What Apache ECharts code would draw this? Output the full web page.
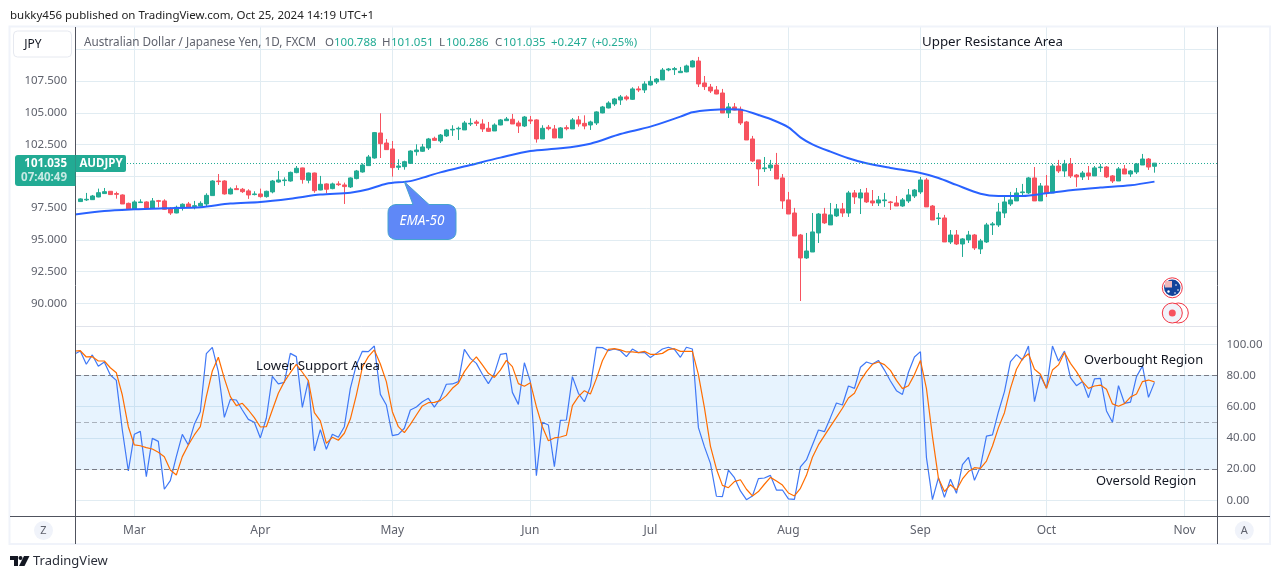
<!DOCTYPE html>
<html>
<head>
<meta charset="utf-8">
<title>AUDJPY</title>
<script src="https://cdn.jsdelivr.net/npm/echarts@6/dist/echarts.min.js"></script>
<style>
html, body { margin: 0; padding: 0; background: #fff; }
#main { width: 1281px; height: 579px; }
</style>
</head>
<body>
<div id="main"></div>
<script>
// daily candles, index 0 = Feb 19 2024, weekdays only
var opens = [
  98.01,98.14,98.16,98.37,98.64,98.82,98.64,98.53,97.87,97.43,
  97.93,97.98,97.48,98.08,98.06,97.43,97.11,97.51,97.82,97.61,
  97.66,97.82,98.48,99.63,99.63,98.61,99.03,98.98,98.85,98.56,
  98.61,98.40,98.77,99.55,99.66,99.63,100.29,100.66,99.69,100.26,
  98.92,99.40,99.03,99.40,99.32,99.16,99.82,100.34,100.84,101.44,
  103.41,102.62,102.15,100.71,100.76,101.02,101.94,101.97,102.23,102.99,
  102.78,103.18,103.65,103.73,103.65,104.12,104.28,104.12,103.78,103.57,
  104.04,104.38,104.49,104.20,103.96,104.44,104.44,102.94,103.86,103.73,
  103.02,103.83,103.73,104.44,104.17,104.04,104.20,104.99,105.38,105.70,
  106.01,106.25,106.06,106.88,106.80,107.19,107.43,107.59,108.37,108.40,
  108.16,108.22,108.61,109.08,107.35,107.03,106.80,106.56,104.99,105.46,
  105.28,104.28,102.94,101.29,100.60,100.66,100.89,99.87,98.14,97.11,
  95.38,93.57,94.04,95.54,97.03,96.17,96.88,97.43,97.11,98.69,
  98.29,98.69,98.06,97.90,98.08,97.98,97.90,97.66,98.06,98.45,
  98.77,99.71,97.66,96.67,96.72,94.83,95.38,94.67,94.99,95.38,
  94.28,94.83,96.17,96.17,97.11,97.82,98.06,98.71,98.69,99.87,
  98.06,99.24,98.69,100.81,100.42,100.97,100.10,99.95,100.26,100.03,
  100.68,100.73,100.03,99.63,100.58,100.18,100.34,100.89,101.36,100.788
];
var closes = [
  98.22,98.19,98.45,98.71,98.79,98.56,98.58,97.82,97.40,97.98,
  97.98,97.51,98.06,98.03,97.40,97.11,97.56,97.80,97.56,97.69,
  97.87,98.50,99.63,99.58,98.61,99.00,98.95,98.79,98.53,98.61,
  98.40,98.82,99.63,99.71,99.71,100.31,100.63,99.74,100.26,98.87,
  99.37,98.98,99.40,99.34,99.19,99.87,100.42,100.89,101.52,103.44,
  102.57,102.10,100.68,100.81,101.15,101.99,102.07,102.31,102.94,102.83,
  103.25,103.65,103.70,103.78,104.20,104.17,104.17,103.73,103.54,104.04,
  104.44,104.51,104.12,103.96,104.67,104.36,102.94,103.78,103.75,103.02,
  103.81,103.75,104.44,104.12,103.96,104.28,105.07,105.46,105.77,106.09,
  106.25,106.09,106.88,106.80,107.27,107.48,107.66,108.37,108.45,108.48,
  108.27,108.69,109.08,107.27,107.06,106.72,106.48,104.99,105.46,105.22,
  104.20,102.86,101.21,100.58,100.66,100.89,99.79,98.06,97.03,95.30,
  93.57,94.12,95.62,97.03,96.33,96.96,97.43,97.11,98.69,98.37,
  98.69,97.98,97.90,98.14,98.14,97.93,97.66,98.14,98.53,98.92,
  99.71,97.59,96.56,96.72,94.83,95.38,94.67,95.07,95.38,94.36,
  94.91,96.17,96.25,97.19,97.98,98.14,98.69,98.77,99.87,98.06,
  99.24,98.69,100.81,100.42,100.97,100.03,99.95,100.26,100.03,100.66,
  100.73,99.95,99.63,100.58,100.18,100.42,100.97,101.36,100.73,101.035
];
var highs = [
  98.27,98.69,98.53,99.03,99.08,98.82,98.79,98.58,97.93,98.11,
  98.19,98.03,98.29,98.14,98.19,97.56,97.69,97.87,97.98,98.06,
  98.03,98.66,99.69,100.18,99.69,99.13,99.29,99.08,98.98,98.82,
  99.03,98.87,99.71,100.42,99.92,100.37,100.81,100.68,100.29,100.29,
  100.03,99.45,99.50,99.61,99.50,99.92,100.50,101.02,101.68,103.49,
  104.96,102.94,102.78,101.34,101.23,102.05,102.52,102.55,103.02,103.12,
  103.33,103.73,104.02,103.91,104.36,104.57,104.44,104.49,104.28,104.17,
  104.51,104.67,104.91,104.38,104.75,104.75,104.49,104.02,104.04,104.04,
  103.88,104.02,104.59,104.75,104.80,104.38,105.12,105.54,105.91,106.17,
  106.40,106.38,107.01,107.09,107.48,107.90,107.74,108.53,108.53,108.61,
  108.61,108.79,109.16,109.40,107.90,107.27,107.11,106.88,105.77,105.77,
  105.49,104.36,103.18,101.29,101.52,101.29,101.84,100.18,98.77,97.51,
  95.46,95.54,97.11,97.11,97.51,97.90,97.82,97.90,98.85,98.92,
  99.00,99.08,98.92,98.45,98.69,98.06,98.45,98.29,99.00,99.00,
  99.95,99.87,97.74,97.11,96.96,95.77,95.77,95.14,95.70,95.46,
  95.07,96.33,96.40,97.90,98.37,98.77,99.08,99.40,99.95,100.73,
  99.47,100.10,100.97,101.29,101.29,101.44,100.18,100.42,100.81,100.81,
  100.97,100.81,100.10,100.73,100.89,100.50,101.05,101.76,101.44,101.051
];
var lows = [
  97.98,98.06,98.14,98.35,98.61,98.53,98.24,97.82,97.40,97.40,
  97.90,97.45,97.43,97.56,97.35,96.96,97.09,97.30,97.51,97.40,
  97.64,97.66,98.48,99.32,98.56,98.58,98.92,98.69,98.22,98.50,
  98.32,98.32,98.66,99.50,99.24,99.58,100.24,99.42,99.45,98.71,
  98.90,98.66,98.98,99.24,97.82,99.08,99.76,100.29,100.81,101.39,
  101.44,102.07,99.97,100.50,100.52,100.97,101.63,101.92,102.07,102.78,
  102.62,103.10,103.18,102.86,103.65,103.96,103.96,103.49,103.49,103.57,
  104.02,104.38,104.12,103.41,103.88,104.12,102.65,102.94,103.62,103.02,
  103.02,103.62,103.73,103.91,103.70,103.65,104.04,104.96,105.35,105.54,
  105.62,105.96,106.01,106.64,106.56,107.14,107.27,107.59,108.27,107.98,
  108.14,108.19,108.58,107.03,106.80,106.56,106.46,104.99,104.59,105.20,
  104.04,102.86,101.13,99.24,100.34,100.42,99.79,97.43,97.03,95.30,
  90.18,93.49,94.04,94.75,96.25,96.17,96.80,96.80,96.80,97.82,
  97.03,97.90,97.66,97.66,97.59,97.35,97.66,97.59,97.90,98.29,
  98.61,97.59,96.56,96.17,94.83,94.67,94.59,93.65,94.75,94.20,
  93.88,94.75,95.38,96.01,96.72,97.66,98.06,98.45,98.61,98.06,
  98.06,98.37,98.69,100.26,99.95,99.87,99.16,99.71,99.71,100.03,
  100.34,99.87,99.47,99.63,100.18,99.95,100.18,100.89,100.50,100.286
];

// EMA-50 read at these candle positions
var emaAt = [-1,4,9,14,20,25,30,35,40,45,48,51,55,58,60,65,70,75,80,85,90,95,100,102,105,108,110,113,115,118,120,122,125,128,131,135,140,143,146,150,153,157,161,165,170,175,179];
var emaValues = [96.98,97.27,97.40,97.48,97.56,97.85,97.98,98.24,98.56,98.71,98.98,99.42,99.62,100.03,100.31,100.89,101.47,101.99,102.20,102.57,103.33,103.91,104.70,105.04,105.22,105.28,105.25,104.83,104.51,103.86,103.07,102.52,101.94,101.42,101.02,100.66,100.26,99.87,99.32,98.63,98.45,98.45,98.66,98.90,99.11,99.29,99.58];

// stochastic lines, first value sits one bar before the first candle
var stochK = [
  93.6,95.7,87.2,93.2,85.9,88.7,80.3,76.9,45.1,18.8,42.3,
  44.2,15.2,39.7,37.8,7.1,12.6,28.0,42.3,35.5,48.7,
  56.8,94.0,98.1,82.5,53.2,64.7,64.3,57.9,51.9,50.0,
  40.0,52.6,79.5,74.6,75.6,94.2,92.1,59.6,76.7,31.8,
  45.3,32.7,42.3,40.4,47.2,71.8,86.8,95.5,95.3,98.9,
  67.9,61.1,41.5,42.3,46.2,57.9,59.8,63.2,65.4,59.8,
  65.4,74.4,74.6,76.1,96.8,91.0,87.8,80.8,74.8,81.2,
  93.6,94.2,69.2,61.5,88.2,76.1,15.8,50.0,48.3,21.6,
  51.3,51.5,79.3,68.6,63.2,72.9,98.1,97.9,95.9,97.0,
  95.9,92.1,97.0,94.7,94.9,91.5,94.2,97.0,98.1,96.8,
  91.7,98.1,97.0,46.6,34.4,23.7,2.6,2.4,19.4,14.5,
  6.0,0.4,2.8,13.9,14.3,16.0,6.6,6.6,0.9,0.6,
  21.4,25.9,35.5,45.1,44.0,53.0,62.4,61.1,73.3,71.8,
  85.3,88.7,87.4,89.7,83.5,76.5,70.3,67.9,82.1,91.9,
  95.3,27.4,0.4,14.5,1.9,13.5,4.5,22.9,27.6,12.8,
  21.6,41.2,41.9,56.8,69.7,88.9,93.4,90.0,98.9,63.2,
  79.9,71.8,98.9,89.3,95.7,78.6,73.5,76.1,65.8,77.8,
  78.2,57.3,50.0,73.5,62.2,63.0,79.3,86.1,66.0,75.6
];
var stochD = [
  95.7,95.9,91.9,92.1,89.3,89.3,85.0,81.8,67.5,47.2,35.5,
  35.0,33.8,32.9,30.8,28.0,19.4,16.2,28.0,35.5,41.9,
  47.2,66.5,82.9,91.7,78.2,66.5,60.7,62.2,57.9,53.0,
  47.0,47.2,57.9,68.6,76.1,81.8,87.2,82.1,76.7,56.2,
  50.9,36.5,40.4,38.5,43.0,52.1,67.5,85.3,92.1,96.4,
  87.4,76.1,56.8,47.2,43.4,48.7,54.7,60.5,62.6,62.8,
  63.9,67.1,71.8,75.0,82.5,87.8,91.9,86.8,81.4,78.8,
  83.5,89.7,85.7,74.8,73.1,75.4,60.0,47.2,38.2,40.0,
  40.6,41.7,60.7,66.5,70.3,68.2,78.0,89.5,96.8,97.2,
  96.4,95.1,95.1,94.7,95.5,93.6,93.6,94.2,96.6,97.2,
  95.5,95.5,95.5,80.6,59.4,34.8,20.1,9.6,8.1,12.0,
  13.2,7.1,2.8,5.6,10.3,14.7,12.4,9.8,4.7,2.8,
  7.7,16.0,27.6,35.5,41.5,47.4,53.2,59.0,65.6,68.6,
  76.7,82.5,87.2,88.7,87.0,83.3,76.9,71.6,73.5,80.6,
  89.7,71.6,41.0,14.1,5.6,10.0,6.6,13.7,18.4,20.9,
  20.5,25.2,34.8,46.6,56.2,71.8,84.0,90.8,94.0,84.0,
  80.8,71.8,83.5,86.8,94.7,87.8,82.5,76.1,71.8,73.3,
  73.9,71.2,61.8,60.3,62.0,66.2,68.2,76.1,77.1,75.9
];

var monthAt = [9,30,52,75,95,118,140,161,184];
var monthLabels = ['Mar','Apr','May','Jun','Jul','Aug','Sep','Oct','Nov'];
var priceGrid = [90,92.5,95,97.5,100,102.5,105,107.5,110];
var priceTicks = [90,92.5,95,97.5,102.5,105,107.5];
var stochTicks = [0,20,40,60,80,100];
var lastClose = 101.035;

var UP = '#22ab94', DOWN = '#f7525f', GRID = '#e1ecf2', AXIS = '#50535e', LABEL = '#5f626d';
var FONT = '"Noto Sans", sans-serif';

var candles = opens.map(function (o, i) {
  return [i, o, closes[i], lows[i], highs[i]];
});
var xMin = -0.717, xMax = 189.5;

function txt(x, y, s, color, size, extra) {
  var style = { text: s, fill: color, font: (extra && extra.font ? extra.font + ' ' : '') + size + 'px ' + FONT,
    textAlign: (extra && extra.align) || 'left', textVerticalAlign: 'middle' };
  return { type: 'text', x: x, y: y + 1, z: 20, silent: true, style: style };
}
function ln(x1, y1, x2, y2, color, w) {
  return { type: 'line', z: 15, silent: true, shape: { x1: x1, y1: y1, x2: x2, y2: y2 }, style: { stroke: color, lineWidth: w || 1 } };
}

var graphics = [
  // frame and pane dividers
  { type: 'rect', z: 1, silent: true, shape: { x: 9.5, y: 26.5, width: 1260.5, height: 517.5 }, style: { fill: 'none', stroke: '#f0f3fa', lineWidth: 2 } },
  ln(76, 326.5, 1217.5, 326.5, '#e0e3eb'),
  ln(10, 516.5, 1270, 516.5, AXIS),
  ln(75.5, 27, 75.5, 544, AXIS),
  ln(1217.5, 27, 1217.5, 544, AXIS),

  // top texts
  txt(10, 15, 'bukky456 published on TradingView.com, Oct 25, 2024 14:19 UTC+1', '#222', 11.5),
  txt(84, 42, 'Australian Dollar / Japanese Yen, 1D, FXCM', LABEL, 11.7),
  txt(325, 42, 'O', LABEL, 11.5), txt(334, 42, '100.788', UP, 11.5),
  txt(382, 42, 'H', LABEL, 11.5), txt(391, 42, '101.051', UP, 11.5),
  txt(439, 42, 'L', LABEL, 11.5), txt(446, 42, '100.286', UP, 11.5),
  txt(495, 42, 'C', LABEL, 11.5), txt(503, 42, '101.035', UP, 11.5),
  txt(551, 42, '+0.247', UP, 11.5), txt(592, 42, '(+0.25%)', UP, 11.3),

  // currency button
  { type: 'rect', z: 15, silent: true, shape: { x: 13.5, y: 31, width: 58, height: 26, r: 4 }, style: { fill: '#fff', stroke: '#e6e9f0' } },
  txt(33, 43.5, 'JPY', '#131722', 12, { align: 'center' }),

  // last price tag
  { type: 'rect', z: 16, silent: true, shape: { x: 15, y: 155, width: 60.5, height: 31, r: [3, 0, 0, 3] }, style: { fill: UP } },
  { type: 'rect', z: 16, silent: true, shape: { x: 75.5, y: 155, width: 50.5, height: 17, r: [0, 2, 2, 0] }, style: { fill: UP } },
  txt(67, 163, '101.035', '#fff', 11.5, { align: 'right', font: 'bold' }),
  txt(67, 177, '07:40:49', 'rgba(255,255,255,0.75)', 11.5, { align: 'right', font: 'bold' }),
  txt(101, 163, 'AUDJPY', '#fff', 11.5, { align: 'center', font: 'bold' }),

  // annotations
  txt(922, 41.5, 'Upper Resistance Area', '#131722', 13.3),
  txt(256, 365.5, 'Lower Support Area', '#131722', 13.3),
  txt(1084, 359.5, 'Overbought Region', '#131722', 12.9),
  txt(1096, 480.5, 'Oversold Region', '#131722', 12.9),

  // EMA-50 callout
  { type: 'polygon', z: 17, silent: true,
    shape: { points: [[396,204.5],[413,204.5],[404.3,181.7],[429,204.5],[448,204.5],[451,205.1],[454,206.9],[455.6,209.5],[456,212.5],[456,231.5],[455.6,234.5],[454,237.1],[451,238.9],[448,239.5],[396,239.5],[393,238.9],[390,237.1],[388.4,234.5],[388,231.5],[388,212.5],[388.4,209.5],[390,206.9],[393,205.1]] },
    style: { fill: '#5f88f7', stroke: '#46a3cf', lineWidth: 1 } },
  txt(422, 220.5, 'EMA-50', '#fff', 13.5, { align: 'center', font: 'italic' }),

  // event markers
  { type: 'circle', z: 16, silent: true, shape: { cx: 1172.3, cy: 287.8, r: 10 }, style: { fill: '#fff', stroke: '#f23645', lineWidth: 1 } },
  { type: 'circle', z: 17, silent: true, shape: { cx: 1172.3, cy: 287.8, r: 8.2 }, style: { fill: '#12439b' } },
  { type: 'rect', z: 18, silent: true, shape: { x: 1165, y: 281, width: 7, height: 6.5 }, style: { fill: '#f0b8bc' } },
  { type: 'circle', z: 18, silent: true, shape: { cx: 1168.5, cy: 291.5, r: 1.2 }, style: { fill: '#fff' } },
  { type: 'circle', z: 18, silent: true, shape: { cx: 1176, cy: 285, r: 0.8 }, style: { fill: '#fff' } },
  { type: 'circle', z: 18, silent: true, shape: { cx: 1178, cy: 290, r: 0.8 }, style: { fill: '#fff' } },
  { type: 'circle', z: 18, silent: true, shape: { cx: 1175, cy: 293, r: 0.8 }, style: { fill: '#fff' } },
  { type: 'circle', z: 16, silent: true, shape: { cx: 1178.3, cy: 313, r: 10 }, style: { fill: '#fff', stroke: '#f23645', lineWidth: 1 } },
  { type: 'circle', z: 17, silent: true, shape: { cx: 1172.3, cy: 313, r: 10 }, style: { fill: '#f0f3fa', stroke: '#f23645', lineWidth: 1 } },
  { type: 'circle', z: 18, silent: true, shape: { cx: 1172.3, cy: 313, r: 3.5 }, style: { fill: DOWN } },

  // corner buttons
  { type: 'circle', z: 16, silent: true, shape: { cx: 43.5, cy: 530.5, r: 9.5 }, style: { fill: '#f0f3fa' } },
  txt(43.5, 530, 'Z', LABEL, 11, { align: 'center' }),
  { type: 'circle', z: 16, silent: true, shape: { cx: 1244.3, cy: 530.5, r: 9.5 }, style: { fill: '#f0f3fa' } },
  txt(1244.3, 530, 'A', LABEL, 11, { align: 'center' }),

  // logo
  { type: 'polygon', z: 16, silent: true, shape: { points: [[10, 556], [18, 556], [18, 566], [14, 566], [14, 560], [10, 560]] }, style: { fill: '#131722' } },
  { type: 'circle', z: 16, silent: true, shape: { cx: 20.5, cy: 558, r: 2 }, style: { fill: '#131722' } },
  { type: 'polygon', z: 16, silent: true, shape: { points: [[24, 556], [29.5, 556], [24.5, 566], [19, 566]] }, style: { fill: '#131722' } },
  txt(33, 560, 'TradingView', '#2a2e39', 13)
];

var option = {
  animation: false,
  backgroundColor: '#fff',
  grid: [
    { left: 76, top: 27, width: 1141.5, height: 299.7, show: false },
    { left: 76, top: 326.7, width: 1141.5, height: 190, show: false }
  ],
  xAxis: [
    {
      type: 'value', gridIndex: 0, min: xMin, max: xMax,
      axisLine: { show: false },
      axisTick: { show: false, customValues: monthAt },
      axisLabel: { show: false },
      splitLine: { show: true, lineStyle: { color: GRID, width: 1 } }
    },
    {
      type: 'value', gridIndex: 1, min: xMin, max: xMax,
      axisLine: { show: false },
      axisTick: { show: false, customValues: monthAt },
      axisLabel: {
        show: true, customValues: monthAt, margin: 8, color: LABEL, fontFamily: FONT, fontSize: 12,
        formatter: function (v) { return monthLabels[monthAt.indexOf(v)]; }
      },
      splitLine: { show: true, lineStyle: { color: GRID, width: 1 } }
    }
  ],
  yAxis: [
    {
      type: 'value', gridIndex: 0, position: 'left', min: 88.157, max: 111.756, scale: true,
      axisLine: { show: false },
      axisTick: { show: false, customValues: priceGrid },
      axisLabel: {
        customValues: priceTicks, margin: 9, color: LABEL, fontFamily: FONT, fontSize: 11.5, padding: [2, 0, 0, 0],
        formatter: function (v) { return v.toFixed(3); }
      },
      splitLine: { show: true, lineStyle: { color: GRID, width: 1 } }
    },
    {
      type: 'value', gridIndex: 1, position: 'right', min: -10.5, max: 111.3,
      axisLine: { show: false },
      axisTick: { show: false, customValues: stochTicks },
      axisLabel: {
        customValues: stochTicks, margin: 9, color: LABEL, fontFamily: FONT, fontSize: 11.5,
        formatter: function (v) { return v.toFixed(2); }
      },
      splitLine: { show: true, lineStyle: { color: GRID, width: 1 } }
    }
  ],
  series: [
    {
      name: 'AUDJPY', type: 'candlestick', xAxisIndex: 0, yAxisIndex: 0,
      data: candles, barWidth: 4, z: 3,
      itemStyle: { color: UP, color0: DOWN, borderColor: UP, borderColor0: DOWN, borderWidth: 1 },
      markLine: {
        silent: true, symbol: 'none', animation: false, label: { show: false },
        lineStyle: { color: UP, type: [1, 2], width: 1 },
        data: [{ yAxis: lastClose }]
      }
    },
    {
      name: 'EMA-50', type: 'line', xAxisIndex: 0, yAxisIndex: 0, z: 4,
      data: emaValues.map(function (v, i) { return [emaAt[i], v]; }),
      showSymbol: false, smooth: 0.3,
      lineStyle: { color: '#2962ff', width: 2 }
    },
    {
      name: '%K', type: 'line', xAxisIndex: 1, yAxisIndex: 1, z: 4,
      data: stochK.map(function (v, i) { return [i - 1, v]; }),
      showSymbol: false,
      lineStyle: { color: '#3f78f6', width: 1.2 },
      markArea: {
        silent: true, animation: false, itemStyle: { color: 'rgba(33,150,243,0.11)' },
        data: [[{ yAxis: 20 }, { yAxis: 80 }]]
      },
      markLine: {
        silent: true, symbol: 'none', animation: false, label: { show: false },
        lineStyle: { color: '#787b86', type: [5, 3], width: 1 },
        data: [
          { yAxis: 80 },
          { yAxis: 50, lineStyle: { color: 'rgba(120,123,134,0.55)', type: [5, 3], width: 1 } },
          { yAxis: 20 }
        ]
      }
    },
    {
      name: '%D', type: 'line', xAxisIndex: 1, yAxisIndex: 1, z: 5,
      data: stochD.map(function (v, i) { return [i - 1, v]; }),
      showSymbol: false,
      lineStyle: { color: '#ff6d00', width: 1.2 }
    }
  ],
  graphic: { elements: graphics }
};

var myChart = echarts.init(document.getElementById('main'));
myChart.setOption(option);
</script>
</body>
</html>
